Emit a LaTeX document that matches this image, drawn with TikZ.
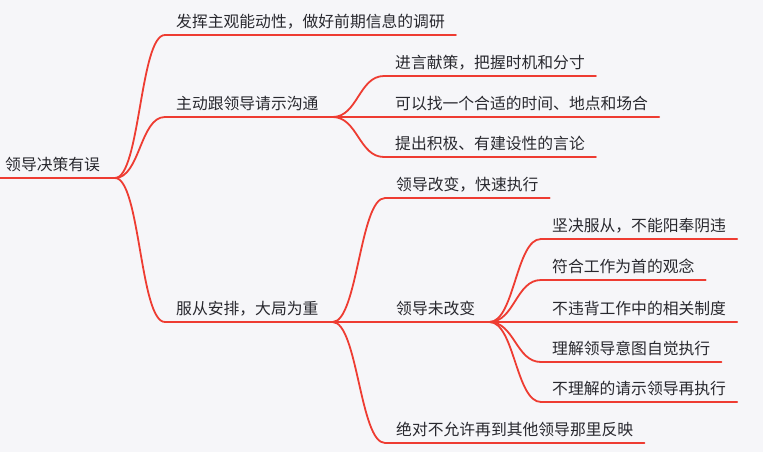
\documentclass[tikz,border=0pt]{standalone}
\usepackage{fontspec}
\newfontfamily\cjk{Noto Sans CJK SC}
\usetikzlibrary{calc}
\definecolor{bgc}{RGB}{246,246,249}
\definecolor{brc}{RGB}{238,60,50}
\definecolor{txc}{RGB}{40,40,46}
\newcommand\linkto[2]{\draw[ln] (#1) .. controls ([xshift=25pt]#1) and ([xshift=-25pt]#2.south west) .. (#2.south west) -- (#2.south east);}
\begin{document}
\begin{tikzpicture}[x=1pt,y=-1pt,
  t/.style={font=\cjk\fontsize{15.8}{16}\selectfont, text=txc, inner xsep=11pt, inner ysep=6pt, anchor=south west},
  ln/.style={draw=brc, line width=1.8pt, line cap=round}]
\fill[bgc] (0,0) rectangle (763,452);
\useasboundingbox (0,0) rectangle (763,452);

% nodes
\node[t, inner xsep=5pt] (R) at (0,178) {领导决策有误};
\coordinate (Rx) at (115,178);
\node[t] (A) at (165,35) {发挥主观能动性，做好前期信息的调研};
\node[t] (B) at (165,117) {主动跟领导请示沟通};
\coordinate (Bx) at ([xshift=3pt]B.south east);
\node[t] (C) at (165,322) {服从安排，大局为重};
\coordinate (Cx) at ([xshift=3pt]C.south east);
\node[t] (B1) at (384,76) {进言献策，把握时机和分寸};
\node[t] (B2) at (384,117) {可以找一个合适的时间、地点和场合};
\node[t] (B3) at (384,157) {提出积极、有建设性的言论};
\node[t] (C1) at (385,198) {领导改变，快速执行};
\node[t] (C2) at (385,322) {领导未改变};
\coordinate (C2x) at ([xshift=3pt]C2.south east);
\node[t] (C3) at (385,443) {绝对不允许再到其他领导那里反映};
\node[t] (D1) at (541,239) {坚决服从，不能阳奉阴违};
\node[t] (D2) at (541,280) {符合工作为首的观念};
\node[t] (D3) at (541,322) {不违背工作中的相关制度};
\node[t] (D4) at (541,362) {理解领导意图自觉执行};
\node[t] (D5) at (541,402) {不理解的请示领导再执行};

% connectors
\draw[ln] (R.south west) -- (Rx);
\linkto{Rx}{A}
\linkto{Rx}{B}
\linkto{Rx}{C}
\draw[ln] (B.south east) -- (Bx);
\draw[ln] (C.south east) -- (Cx);
\linkto{Bx}{B1}
\linkto{Bx}{B2}
\linkto{Bx}{B3}
\linkto{Cx}{C1}
\linkto{Cx}{C2}
\linkto{Cx}{C3}
\draw[ln] (C2.south east) -- (C2x);
\linkto{C2x}{D1}
\linkto{C2x}{D2}
\linkto{C2x}{D3}
\linkto{C2x}{D4}
\linkto{C2x}{D5}
\end{tikzpicture}
\end{document}
